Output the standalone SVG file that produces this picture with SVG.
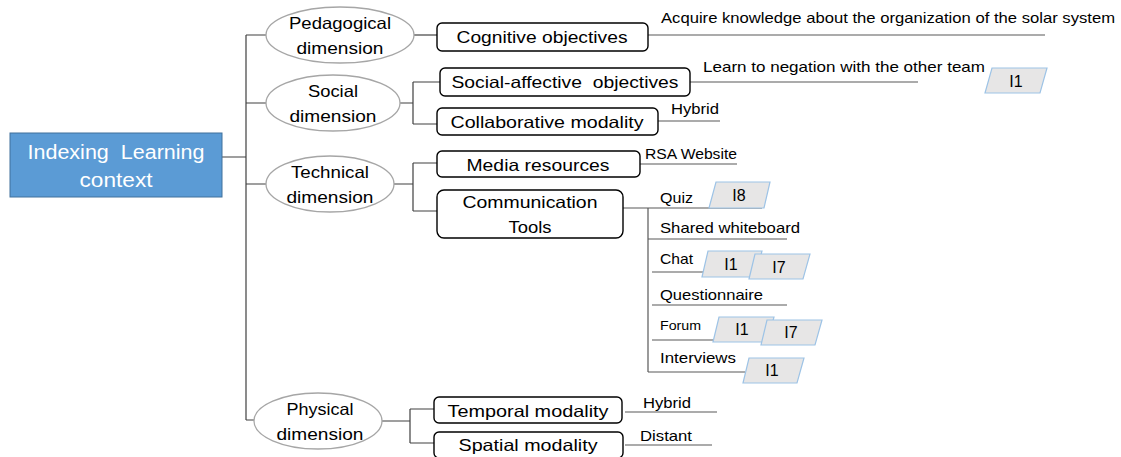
<svg xmlns="http://www.w3.org/2000/svg" width="1121" height="457" viewBox="0 0 1121 457">
<style>
text{font-family:"Liberation Sans",Arial,sans-serif;fill:#000;}
.pre{white-space:pre;}
.box{fill:#fff;stroke:#000;stroke-width:1.4;}
.ell{fill:#fff;stroke:#A6A6A6;stroke-width:1.3;}
.tag{fill:#E7E6E6;stroke:#9DC3E6;stroke-width:1.2;}
.c{fill:none;stroke:#404040;stroke-width:1.2;}
.l{fill:none;stroke:#595959;stroke-width:1.2;}
.bt{font-size:16.5px;text-anchor:middle;}
.et{font-size:16.5px;text-anchor:middle;}
.lt{font-size:14.5px;}
.tt{font-size:16px;text-anchor:middle;}
</style>
<rect width="1121" height="457" fill="#fff"/>
<g id="connectors">
<path class="c" d="M222 157H246M246 35V420M246 35H266M246 103H266M246 184H266M246 420H254"/>
<path class="c" d="M414 35H437"/>
<path class="c" d="M400 103H413M413 82V124M413 82H440M413 124H437"/>
<path class="c" d="M394 184H413M413 163V211M413 163H437M413 211H437"/>
<path class="c" d="M382 421H410M410 409V443M410 409H434M410 443H434"/>
<path class="l" d="M648 35H1045"/>
<path class="l" d="M690 82H918"/>
<path class="l" d="M658 121H720"/>
<path class="l" d="M640 164H737"/>
<path class="l" d="M623 208H648M648 208V372"/>
<path class="l" d="M648 208H762M648 239H787M652 272H705M652 305H787M652 340H715M648 372H745"/>
<path class="l" d="M625 412H717M625 445H712"/>
</g>
<g id="root">
<rect x="10" y="133" width="212" height="64" fill="#5B9BD5" stroke="#41719C" stroke-width="1"/>
<text class="pre" x="116" y="159" font-size="20px" text-anchor="middle" style="fill:#fff" textLength="177" lengthAdjust="spacingAndGlyphs" xml:space="preserve">Indexing  Learning</text>
<text x="116" y="187" font-size="20px" text-anchor="middle" style="fill:#fff" textLength="73" lengthAdjust="spacingAndGlyphs">context</text>
</g>
<g id="pedagogical">
<ellipse class="ell" cx="340" cy="35" rx="74" ry="28"/>
<text class="et" x="340" y="29" textLength="102" lengthAdjust="spacingAndGlyphs">Pedagogical</text>
<text class="et" x="340" y="54" textLength="87" lengthAdjust="spacingAndGlyphs">dimension</text>
</g>
<g id="social">
<ellipse class="ell" cx="333" cy="103" rx="67" ry="28"/>
<text class="et" x="333" y="97" textLength="50" lengthAdjust="spacingAndGlyphs">Social</text>
<text class="et" x="333" y="122" textLength="87" lengthAdjust="spacingAndGlyphs">dimension</text>
</g>
<g id="technical">
<ellipse class="ell" cx="330" cy="184" rx="64" ry="28"/>
<text class="et" x="330" y="178" textLength="78" lengthAdjust="spacingAndGlyphs">Technical</text>
<text class="et" x="330" y="203" textLength="87" lengthAdjust="spacingAndGlyphs">dimension</text>
</g>
<g id="physical">
<ellipse class="ell" cx="318" cy="421" rx="64" ry="28"/>
<text class="et" x="320" y="415" textLength="67" lengthAdjust="spacingAndGlyphs">Physical</text>
<text class="et" x="320" y="440" textLength="87" lengthAdjust="spacingAndGlyphs">dimension</text>
</g>
<g id="cognitive">
<rect class="box" x="437" y="23" width="211" height="28" rx="5"/>
<text class="bt" x="542" y="43" textLength="171" lengthAdjust="spacingAndGlyphs">Cognitive objectives</text>
<text class="lt" x="661" y="23" textLength="454" lengthAdjust="spacingAndGlyphs">Acquire knowledge about the organization of the solar system</text>
</g>
<g id="social-affective">
<rect class="box" x="440" y="68" width="250" height="28" rx="5"/>
<text class="bt pre" x="565" y="88" textLength="227" lengthAdjust="spacingAndGlyphs" xml:space="preserve">Social-affective  objectives</text>
<text class="lt" x="703" y="72" textLength="282" lengthAdjust="spacingAndGlyphs">Learn to negation with the other team</text>
<polygon class="tag" points="992,68 1047,68 1040,93 985,93"/>
<text class="tt" x="1016" y="87">I1</text>
</g>
<g id="collaborative">
<rect class="box" x="437" y="108" width="221" height="27" rx="5"/>
<text class="bt" x="547" y="128" textLength="193" lengthAdjust="spacingAndGlyphs">Collaborative modality</text>
<text class="lt" x="671" y="114" textLength="48" lengthAdjust="spacingAndGlyphs">Hybrid</text>
</g>
<g id="media">
<rect class="box" x="437" y="151" width="203" height="26" rx="5"/>
<text class="bt" x="538" y="171" textLength="143" lengthAdjust="spacingAndGlyphs">Media resources</text>
<text class="lt" x="645" y="159" textLength="92" lengthAdjust="spacingAndGlyphs">RSA Website</text>
</g>
<g id="communication">
<rect class="box" x="437" y="190" width="186" height="48" rx="7"/>
<text class="bt" x="530" y="208" textLength="135" lengthAdjust="spacingAndGlyphs">Communication</text>
<text class="bt" x="530" y="233" textLength="43" lengthAdjust="spacingAndGlyphs">Tools</text>
</g>
<g id="quiz">
<text class="lt" x="660" y="203" textLength="33" lengthAdjust="spacingAndGlyphs">Quiz</text>
<polygon class="tag" points="716,182 770,182 764,208 709,208"/>
<text class="tt" x="739" y="201">I8</text>
</g>
<g id="whiteboard">
<text class="lt" x="660" y="233" textLength="140" lengthAdjust="spacingAndGlyphs">Shared whiteboard</text>
</g>
<g id="chat">
<text class="lt" x="660" y="264" textLength="33" lengthAdjust="spacingAndGlyphs">Chat</text>
<polygon class="tag" points="708,251 762,251 755,277 702,277"/>
<text class="tt" x="731" y="270">I1</text>
<polygon class="tag" points="755,254 810,254 803,279 749,279"/>
<text class="tt" x="779" y="273">I7</text>
</g>
<g id="questionnaire">
<text class="lt" x="660" y="300" textLength="103" lengthAdjust="spacingAndGlyphs">Questionnaire</text>
</g>
<g id="forum">
<text x="660" y="330" font-size="13px" textLength="41" lengthAdjust="spacingAndGlyphs">Forum</text>
<polygon class="tag" points="719,317 774,317 767,342 713,342"/>
<text class="tt" x="742" y="335">I1</text>
<polygon class="tag" points="767,320 822,320 815,345 761,345"/>
<text class="tt" x="791" y="338">I7</text>
</g>
<g id="interviews">
<text class="lt" x="660" y="363" textLength="76" lengthAdjust="spacingAndGlyphs">Interviews</text>
<polygon class="tag" points="749,358 804,358 797,383 743,383"/>
<text class="tt" x="772" y="376">I1</text>
</g>
<g id="temporal">
<rect class="box" x="434" y="397" width="188" height="26" rx="5"/>
<text class="bt" x="528" y="417" textLength="161" lengthAdjust="spacingAndGlyphs">Temporal modality</text>
<text class="lt" x="643" y="408" textLength="48" lengthAdjust="spacingAndGlyphs">Hybrid</text>
</g>
<g id="spatial">
<rect class="box" x="434" y="432" width="189" height="26" rx="5"/>
<text class="bt" x="528" y="451" textLength="139" lengthAdjust="spacingAndGlyphs">Spatial modality</text>
<text class="lt" x="640" y="441" textLength="52" lengthAdjust="spacingAndGlyphs">Distant</text>
</g>
</svg>
